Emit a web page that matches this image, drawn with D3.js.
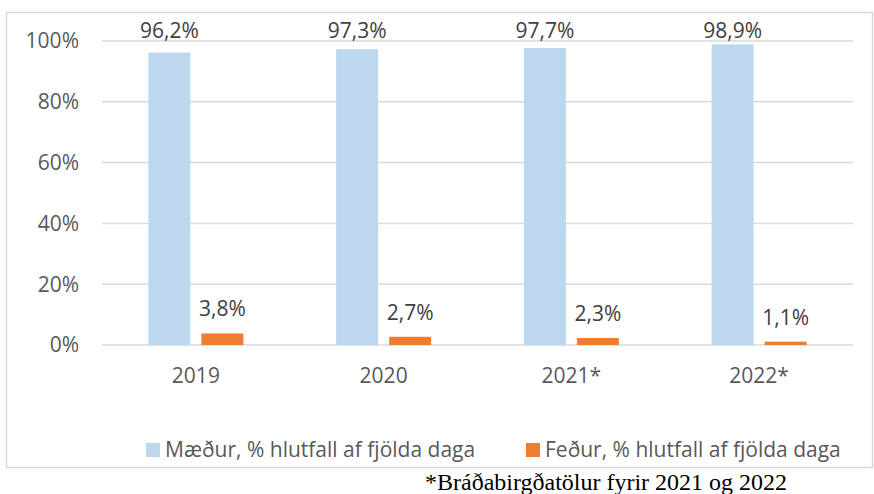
<!DOCTYPE html>
<html>
<head>
<meta charset="utf-8">
<script src="https://cdn.jsdelivr.net/npm/d3@7"></script>
<style>
  html, body { margin: 0; padding: 0; background: #fff; }
</style>
</head>
<body>
<main></main>
<script>
let svgWidth  = 874;
let svgHeight = 494;

// data
const years    = ['2019', '2020', '2021*', '2022*'];
const maedur   = [96.2, 97.3, 97.7, 98.9];
const fedur    = [3.8, 2.7, 2.3, 1.1];
const yTicks   = [0, 20, 40, 60, 80, 100];
const seriesNames = ['Mæður, % hlutfall af fjölda daga', 'Feður, % hlutfall af fjölda daga'];
const footnote = '*Bráðabirgðatölur fyrir 2021 og 2022';

const blue   = '#bdd7ee';
const orange = '#ed7d31';
const textCol = '#595959';
const gridCol = '#d9d9d9';
const font = "'Open Sans', 'DejaVu Sans', sans-serif";
const fs = '21px';

let plotLeft = 102, plotRight = 853, plotTop = 41, plotBottom = 345;

var svg = d3.select('body main')
  .append('svg')
  .attr('width', svgWidth)
  .attr('height', svgHeight);

// chart frame
svg.append('rect')
  .attr('x', 6.5).attr('y', 12.5)
  .attr('width', 866).attr('height', 455)
  .attr('fill', 'none')
  .attr('stroke', gridCol)
  .attr('stroke-width', 1.5);

let x = d3.scaleBand().domain(years).range([plotLeft, plotRight]);
let y = d3.scaleLinear().domain([0, 100]).range([plotBottom, plotTop]);

let barW = 42, gap = 11;

// gridlines
svg.append('g')
  .selectAll('line')
  .data(yTicks)
  .enter()
    .append('line')
      .attr('x1', plotLeft).attr('x2', plotRight)
      .attr('y1', d => y(d)).attr('y2', d => y(d))
      .attr('stroke', gridCol)
      .attr('stroke-width', 1.5);

// y tick labels
svg.append('g')
  .selectAll('text')
  .data(yTicks)
  .enter()
    .append('text')
      .attr('x', 79)
      .attr('y', d => y(d))
      .attr('dy', '0.35em')
      .attr('text-anchor', 'end')
      .attr('font-family', font)
      .attr('font-size', fs)
      .attr('fill', textCol)
      .text(d => d + '%');

let g = svg.selectAll('g.cat')
  .data(years)
  .enter()
    .append('g')
    .attr('class', 'cat');

function cx(d) { return x(d) + x.bandwidth() / 2; }
function fmt(v) { return v.toFixed(1).replace('.', ',') + '%'; }

// mothers
g.append('rect')
  .attr('x', d => cx(d) - gap / 2 - barW)
  .attr('y', (d, i) => y(maedur[i]))
  .attr('width', barW)
  .attr('height', (d, i) => plotBottom - y(maedur[i]))
  .attr('fill', blue);

// fathers
g.append('rect')
  .attr('x', d => cx(d) + gap / 2)
  .attr('y', (d, i) => y(fedur[i]))
  .attr('width', barW)
  .attr('height', (d, i) => plotBottom - y(fedur[i]))
  .attr('fill', orange);

// value labels
g.append('text')
  .attr('x', d => cx(d) - gap / 2 - barW / 2)
  .attr('y', (d, i) => Math.max(y(maedur[i]) - 17, 38))
  .attr('text-anchor', 'middle')
  .attr('font-family', font)
  .attr('font-size', fs)
  .attr('fill', '#404040')
  .text((d, i) => fmt(maedur[i]));

g.append('text')
  .attr('x', d => cx(d) + gap / 2 + barW / 2)
  .attr('y', (d, i) => y(fedur[i]) - 17)
  .attr('text-anchor', 'middle')
  .attr('font-family', font)
  .attr('font-size', fs)
  .attr('fill', '#404040')
  .text((d, i) => fmt(fedur[i]));

// category labels
g.append('text')
  .attr('x', d => cx(d))
  .attr('y', 383)
  .attr('text-anchor', 'middle')
  .attr('font-family', font)
  .attr('font-size', fs)
  .attr('fill', textCol)
  .text(d => d);

// legend
let legendX = [146, 526];
let legend = svg.selectAll('g.legend')
  .data(seriesNames)
  .enter()
    .append('g')
    .attr('class', 'legend')
    .attr('transform', (d, i) => 'translate(' + legendX[i] + ',443)');

legend.append('rect')
  .attr('width', 14).attr('height', 14)
  .attr('fill', (d, i) => i === 0 ? blue : orange);

legend.append('text')
  .attr('x', 19)
  .attr('y', 7)
  .attr('dy', '0.35em')
  .attr('font-family', font)
  .attr('font-size', fs)
  .attr('fill', textCol)
  .text(d => d);

// footnote
svg.append('text')
  .attr('x', 425)
  .attr('y', 490)
  .attr('font-family', "'Liberation Serif', 'Times New Roman', serif")
  .attr('font-size', '24px')
  .attr('fill', '#000')
  .attr('textLength', 362)
  .attr('lengthAdjust', 'spacingAndGlyphs')
  .text(footnote);
</script>
</body>
</html>
